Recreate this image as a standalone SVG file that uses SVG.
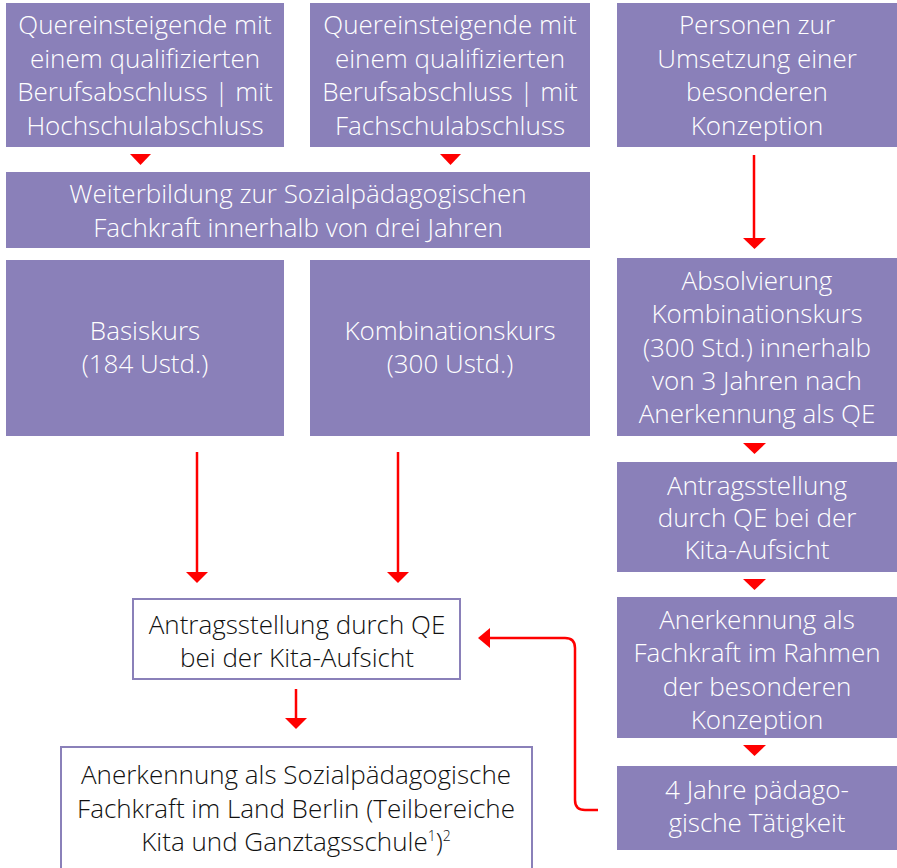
<svg xmlns="http://www.w3.org/2000/svg" width="897" height="868" viewBox="0 0 897 868">
<defs>
<style>
.box{fill:#8a80b9}
.wbox{fill:#fff;stroke:#8a80b9;stroke-width:2}
text{font-family:"Open Sans","Liberation Sans",sans-serif;font-size:26px;font-weight:300;text-anchor:middle}
.w{fill:#fff}
.k{fill:#111}
.line{stroke:#f00;stroke-width:2.5;fill:none}
.head{fill:#f00}
.sup{font-size:14px}
</style>
</defs>
<rect width="897" height="868" fill="#fff"/>
<g id="n1"><rect class="box" x="6" y="3" width="278" height="144"/>
<text class="w" x="145" y="34">Quereinsteigende mit</text><text class="w" x="145" y="68">einem qualifizierten</text><text class="w" x="145" y="101">Berufsabschluss | mit</text><text class="w" x="145" y="135">Hochschulabschluss</text></g>
<g id="n2"><rect class="box" x="310" y="3" width="280" height="144"/>
<text class="w" x="450" y="34">Quereinsteigende mit</text><text class="w" x="450" y="68">einem qualifizierten</text><text class="w" x="450" y="101">Berufsabschluss | mit</text><text class="w" x="450" y="135">Fachschulabschluss</text></g>
<g id="n3"><rect class="box" x="617" y="3" width="280" height="144"/>
<text class="w" x="757" y="34">Personen zur</text><text class="w" x="757" y="68">Umsetzung einer</text><text class="w" x="757" y="101">besonderen</text><text class="w" x="757" y="135">Konzeption</text></g>
<g id="n4"><rect class="box" x="6" y="172" width="584" height="76"/>
<text class="w" x="298" y="203">Weiterbildung zur Sozialpädagogischen</text><text class="w" x="298" y="237">Fachkraft innerhalb von drei Jahren</text></g>
<g id="n5"><rect class="box" x="6" y="260" width="278" height="176"/>
<text class="w" x="145" y="340">Basiskurs</text><text class="w" x="145" y="373">(184 Ustd.)</text></g>
<g id="n6"><rect class="box" x="310" y="260" width="280" height="176"/>
<text class="w" x="450" y="340">Kombinationskurs</text><text class="w" x="450" y="373">(300 Ustd.)</text></g>
<g id="n7"><rect class="box" x="617" y="258" width="280" height="178"/>
<text class="w" x="757" y="290">Absolvierung</text><text class="w" x="757" y="323">Kombinationskurs</text><text class="w" x="757" y="357">(300 Std.) innerhalb</text><text class="w" x="757" y="390">von 3 Jahren nach</text><text class="w" x="757" y="423">Anerkennung als QE</text></g>
<g id="n8"><rect class="box" x="617" y="462" width="280" height="110"/>
<text class="w" x="757" y="495">Antragsstellung</text><text class="w" x="757" y="527">durch QE bei der</text><text class="w" x="757" y="559">Kita-Aufsicht</text></g>
<g id="n9"><rect class="box" x="617" y="597" width="280" height="141"/>
<text class="w" x="757" y="629">Anerkennung als</text><text class="w" x="757" y="662">Fachkraft im Rahmen</text><text class="w" x="757" y="696">der besonderen</text><text class="w" x="757" y="729">Konzeption</text></g>
<g id="n10"><rect class="box" x="617" y="766" width="280" height="84"/>
<text class="w" x="757" y="799">4 Jahre pädago-</text><text class="w" x="757" y="832">gische Tätigkeit</text></g>
<g id="n11"><rect class="wbox" x="133" y="599" width="327" height="80"/>
<text class="k" x="297" y="634">Antragsstellung durch QE</text><text class="k" x="297" y="667">bei der Kita-Aufsicht</text></g>
<g id="n12"><rect class="wbox" x="61" y="747" width="471" height="130"/>
<text class="k" x="296" y="784">Anerkennung als Sozialpädagogische</text><text class="k" x="296" y="818">Fachkraft im Land Berlin (Teilbereiche</text><text class="k" x="296" y="851">Kita und Ganztagsschule<tspan class="sup" dy="-10">1</tspan><tspan dy="10">)</tspan><tspan class="sup" dy="-10">2</tspan></text></g>
<g id="connectors">
<path class="head" d="M130,154 L151,154 L140.5,165 z"/>
<path class="head" d="M440,154 L461,154 L450.5,165 z"/>
<path class="line" d="M754,155 L754,239"/><path class="head" d="M743,238 L766,238 L754.5,249 z"/>
<path class="head" d="M743,443 L766,443 L754.5,454 z"/>
<path class="head" d="M743,579 L766,579 L754.5,590 z"/>
<path class="head" d="M743,745 L766,745 L754.5,756 z"/>
<path class="line" d="M197,452 L197,573"/><path class="head" d="M186,572 L208,572 L197,583 z"/>
<path class="line" d="M398,452 L398,573"/><path class="head" d="M387,572 L409,572 L398,583 z"/>
<path class="line" d="M296,689 L296,719"/><path class="head" d="M285,718 L307,718 L296,729 z"/>
<path class="line" d="M598,810 L585,810 Q575,810 575,800 L575,648 Q575,638 565,638 L489,638"/>
<path class="head" d="M478,638 L490,628 L490,648 z"/>
</g>
</svg>
